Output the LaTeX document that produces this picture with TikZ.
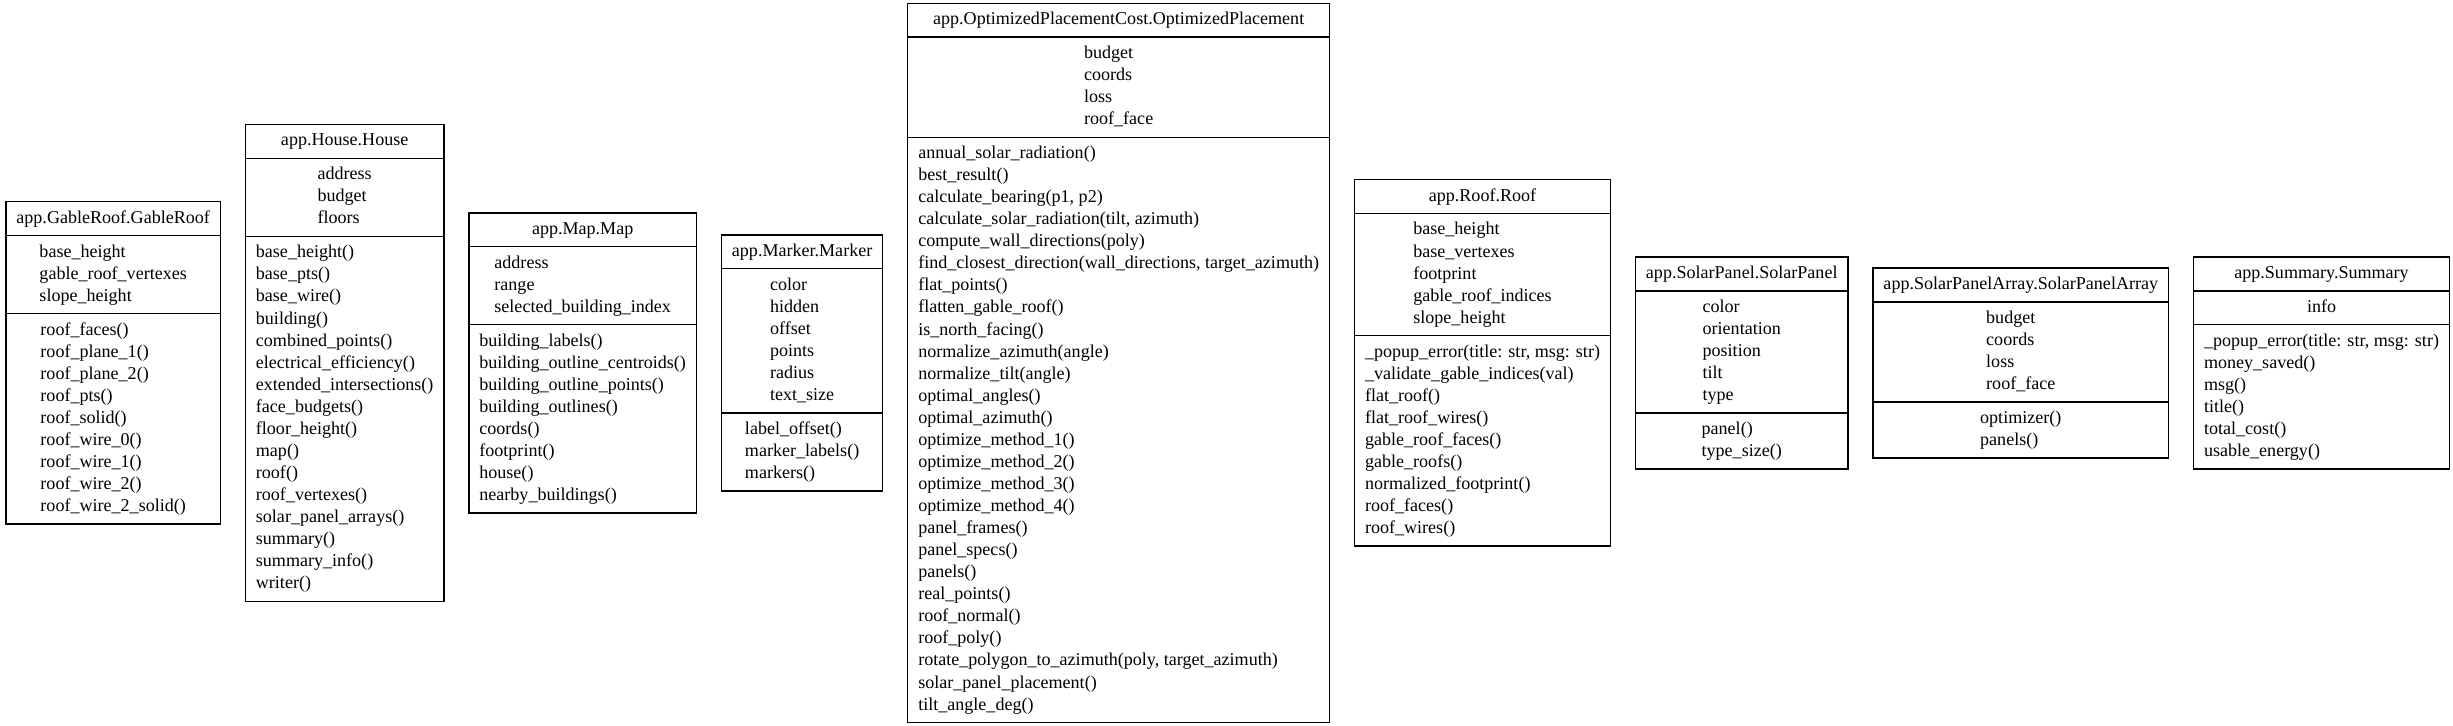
\documentclass[tikz,border=0pt]{standalone}
\usepackage{fontspec}
\setmainfont{Liberation Serif}
\usetikzlibrary{shapes.multipart,positioning}
\newcommand{\rws}[1]{\begin{tabular}{@{}l@{}}#1\end{tabular}}
\begin{document}
\begin{tikzpicture}[
  cls/.style={draw=black, line width=1pt, rectangle split, rectangle split parts=3,
    inner xsep=8pt, inner ysep=4pt, font=\fontsize{13.75}{16.8}\selectfont},
  node distance=18pt]
\useasboundingbox[fill=white] (0pt,0pt) rectangle (1868pt,552.8pt);
\node[cls, anchor=west] (gable) at (4pt,276.4pt)
 {\rws{app.GableRoof.GableRoof}\nodepart{two}\rws{base\_height\\gable\_roof\_vertexes\\slope\_height}\nodepart{three}\rws{roof\_faces()\\roof\_plane\_1()\\roof\_plane\_2()\\roof\_pts()\\roof\_solid()\\roof\_wire\_0()\\roof\_wire\_1()\\roof\_wire\_2()\\roof\_wire\_2\_solid()}};
\node[cls, right=of gable] (house)
 {\rws{app.House.House}\nodepart{two}\rws{address\\budget\\floors}\nodepart{three}\rws{base\_height()\\base\_pts()\\base\_wire()\\building()\\combined\_points()\\electrical\_efficiency()\\extended\_intersections()\\face\_budgets()\\floor\_height()\\map()\\roof()\\roof\_vertexes()\\solar\_panel\_arrays()\\summary()\\summary\_info()\\writer()}};
\node[cls, right=of house] (map)
 {\rws{app.Map.Map}\nodepart{two}\rws{address\\range\\selected\_building\_index}\nodepart{three}\rws{building\_labels()\\building\_outline\_centroids()\\building\_outline\_points()\\building\_outlines()\\coords()\\footprint()\\house()\\nearby\_buildings()}};
\node[cls, right=of map] (marker)
 {\rws{app.Marker.Marker}\nodepart{two}\rws{color\\hidden\\offset\\points\\radius\\text\_size}\nodepart{three}\rws{label\_offset()\\marker\_labels()\\markers()}};
\node[cls, right=of marker] (opt)
 {\rws{app.OptimizedPlacementCost.OptimizedPlacement}\nodepart{two}\rws{budget\\coords\\loss\\roof\_face}\nodepart{three}\rws{annual\_solar\_radiation()\\best\_result()\\calculate\_bearing(p1, p2)\\calculate\_solar\_radiation(tilt, azimuth)\\compute\_wall\_directions(poly)\\find\_closest\_direction(wall\_directions, target\_azimuth)\\flat\_points()\\flatten\_gable\_roof()\\is\_north\_facing()\\normalize\_azimuth(angle)\\normalize\_tilt(angle)\\optimal\_angles()\\optimal\_azimuth()\\optimize\_method\_1()\\optimize\_method\_2()\\optimize\_method\_3()\\optimize\_method\_4()\\panel\_frames()\\panel\_specs()\\panels()\\real\_points()\\roof\_normal()\\roof\_poly()\\rotate\_polygon\_to\_azimuth(poly, target\_azimuth)\\solar\_panel\_placement()\\tilt\_angle\_deg()}};
\node[cls, right=of opt] (roof)
 {\rws{app.Roof.Roof}\nodepart{two}\rws{base\_height\\base\_vertexes\\footprint\\gable\_roof\_indices\\slope\_height}\nodepart{three}\rws{\_popup\_error(title: str, msg: str)\\\_validate\_gable\_indices(val)\\flat\_roof()\\flat\_roof\_wires()\\gable\_roof\_faces()\\gable\_roofs()\\normalized\_footprint()\\roof\_faces()\\roof\_wires()}};
\node[cls, right=of roof] (panel)
 {\rws{app.SolarPanel.SolarPanel}\nodepart{two}\rws{color\\orientation\\position\\tilt\\type}\nodepart{three}\rws{panel()\\type\_size()}};
\node[cls, right=of panel] (array)
 {\rws{app.SolarPanelArray.SolarPanelArray}\nodepart{two}\rws{budget\\coords\\loss\\roof\_face}\nodepart{three}\rws{optimizer()\\panels()}};
\node[cls, right=of array] (summary)
 {\rws{app.Summary.Summary}\nodepart{two}\rws{info}\nodepart{three}\rws{\_popup\_error(title: str, msg: str)\\money\_saved()\\msg()\\title()\\total\_cost()\\usable\_energy()}};
\end{tikzpicture}
\end{document}
